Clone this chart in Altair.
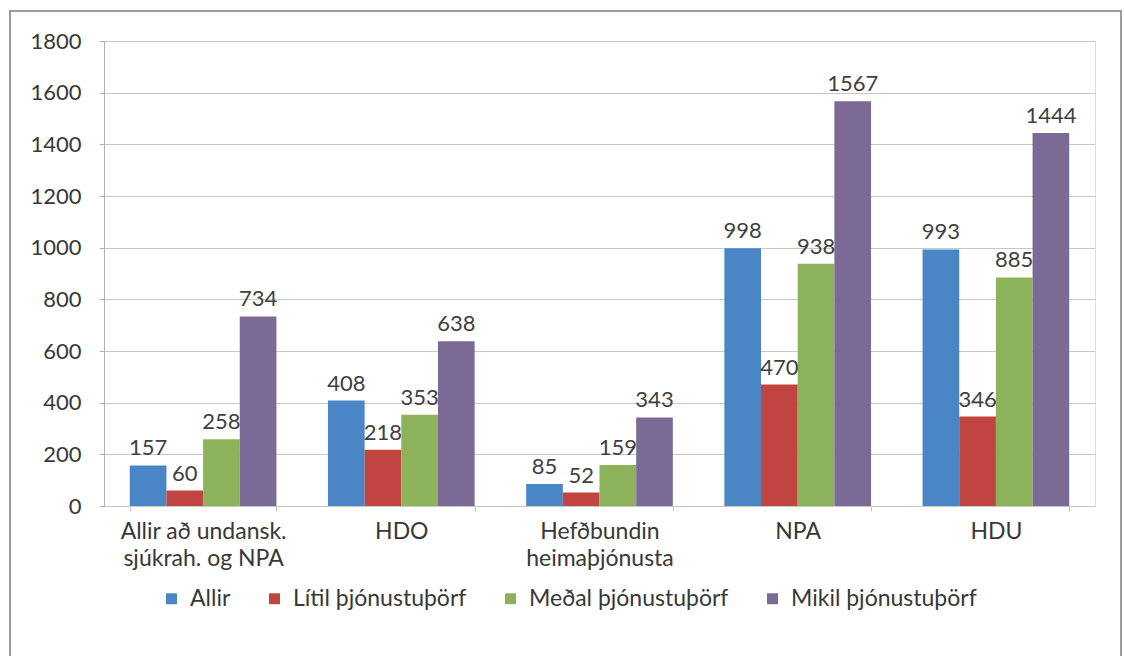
import altair as alt
import pandas as pd

categories = ["Allir að undansk.|sjúkrah. og NPA", "HDO", "Hefðbundin|heimaþjónusta", "NPA", "HDU"]
series = ["Allir", "Lítil þjónustuþörf", "Meðal þjónustuþörf", "Mikil þjónustuþörf"]
allir = [157, 408, 85, 998, 993]
litil = [60, 218, 52, 470, 346]
medal = [258, 353, 159, 938, 885]
mikil = [734, 638, 343, 1567, 1444]
colors = ["#4A86C5", "#C0443F", "#8DB35A", "#7C6A96"]
y_ticks = [0, 200, 400, 600, 800, 1000, 1200, 1400, 1600, 1800]

rows = []
for s, vals in zip(series, [allir, litil, medal, mikil]):
    for c, v in zip(categories, vals):
        rows.append({"cat": c, "series": s, "value": v})
df = pd.DataFrame(rows)

FONT = "Lato"
W, H = 991, 465
FS = 22

x_enc = alt.X("cat:N", sort=categories,
              scale=alt.Scale(paddingInner=0.26, paddingOuter=0.13),
              axis=alt.Axis(title=None, labelAngle=0, labelExpr="split(datum.label, '|')",
                            labelFontSize=23, labelColor="#383838", labelFont=FONT,
                            labelPadding=9, labelLineHeight=27, labelLimit=300,
                            tickBand="extent", tickSize=5, tickColor="#c8c8c8",
                            domainColor="#c8c8c8", labelBaseline="top"))
xoff = alt.XOffset("series:N", sort=series, scale=alt.Scale(paddingInner=0, paddingOuter=0))
y_enc = alt.Y("value:Q", scale=alt.Scale(domain=[0, 1800], nice=False),
              axis=alt.Axis(title=None, values=y_ticks, format="d", labelFontSize=FS,
                            labelColor="#383838", labelFont=FONT, tickSize=5,
                            tickColor="#b0b0b0", domainColor="#b0b0b0",
                            gridColor="#c8c8c8", labelPadding=18))

base = alt.Chart(df)

bars = base.mark_bar().encode(
    x=x_enc, xOffset=xoff, y=y_enc,
    color=alt.Color("series:N", sort=series,
                    scale=alt.Scale(domain=series, range=colors),
                    legend=alt.Legend(title=None, orient="none", direction="horizontal",
                                      legendX=56, legendY=546,
                                      symbolType="square", symbolSize=120,
                                      symbolStrokeWidth=0, labelFontSize=23,
                                      labelFont=FONT, labelColor="#383838",
                                      labelLimit=400,
                                      columnPadding=32, labelOffset=7)),
)

labels = base.mark_text(dy=-17, fontSize=FS, font=FONT, color="#404040").encode(
    x=alt.X("cat:N", sort=categories), xOffset=xoff, y="value:Q", text="value:Q"
)

frame = alt.Chart(pd.DataFrame({"a": [0]})).mark_rect(
    fill=None, stroke="#9a9a9a", strokeWidth=2, clip=False
).encode(x=alt.value(-94), x2=alt.value(1017), y=alt.value(-30), y2=alt.value(630))

chart = alt.layer(bars, labels, frame).properties(
    width=W, height=H,
    autosize=alt.AutoSizeParams(type="none"),
    padding={"left": 104, "top": 41, "right": 29, "bottom": 150},
).configure_view(stroke=None).configure(background="white")

chart.save("out.html", embed_options={"renderer": "svg", "actions": False})
